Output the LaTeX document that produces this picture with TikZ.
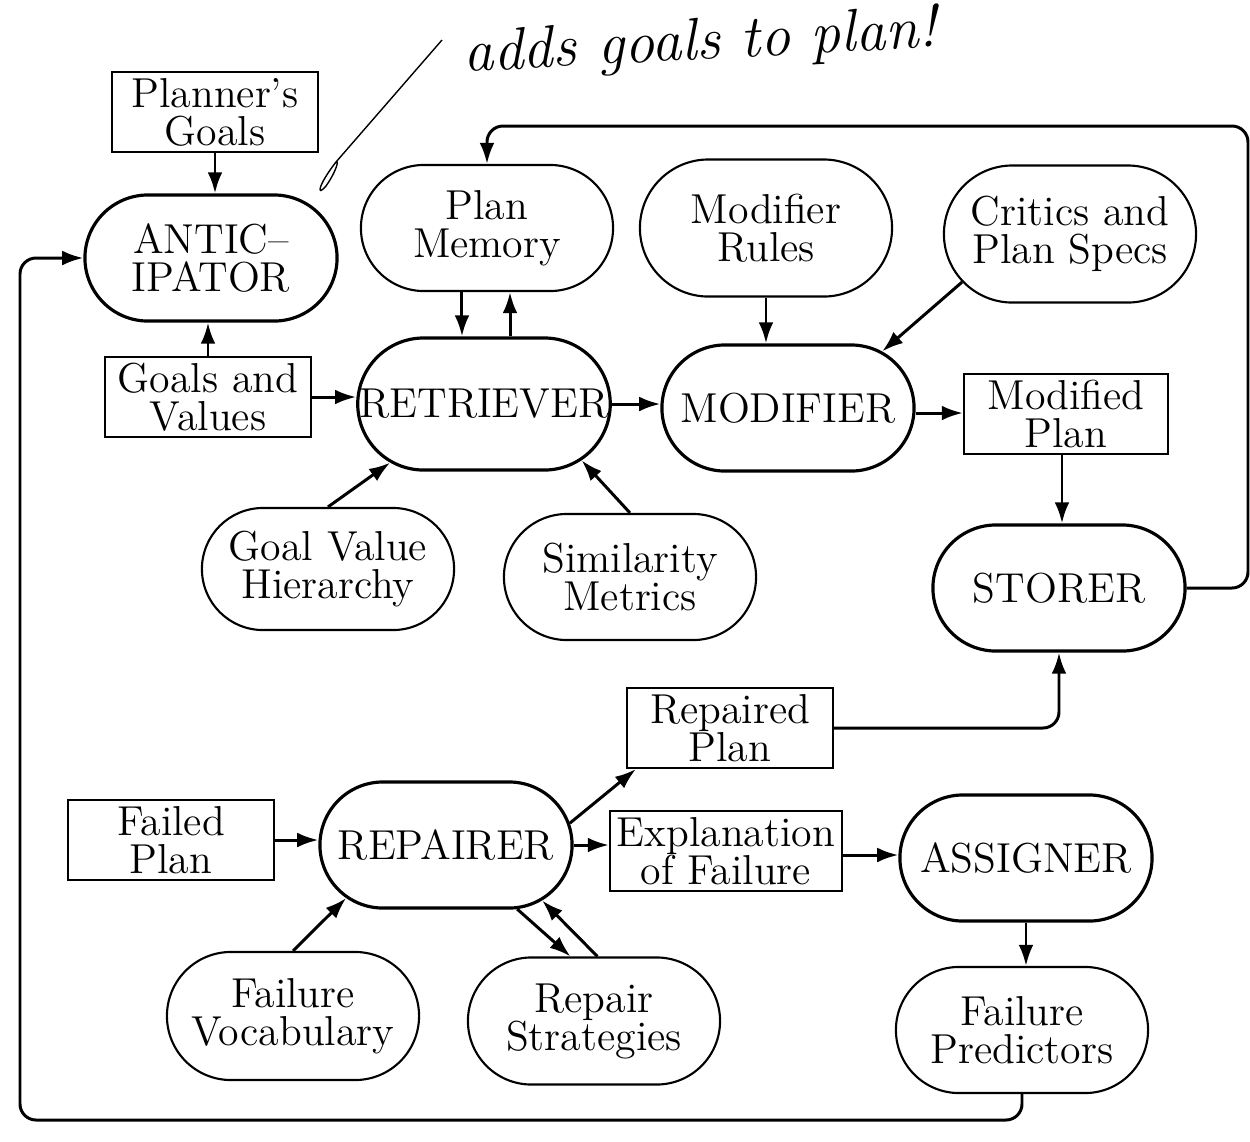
\documentclass[tikz,border=0pt]{standalone}
\usetikzlibrary{shapes.misc, arrows.meta}
\tikzset{>={Latex[length=6pt,width=4.2pt]}}
\tikzset{
  agent/.style={rounded rectangle, draw, line width=0.9pt, minimum width=2.52cm, minimum height=1.26cm, inner sep=0pt, align=center},
  memory/.style={rounded rectangle, draw, line width=0.6pt, minimum width=2.52cm, minimum height=1.26cm, inner sep=0pt, align=center},
  plandata/.style={rectangle, draw, line width=0.6pt, minimum width=2.06cm, minimum height=0.8cm, inner sep=1pt, align=center},
  link/.style={->, line width=0.85pt},
  backlink/.style={link, rounded corners=1.6mm}
}

\begin{document}
\begin{tikzpicture}[x=0.01cm, y=-0.01cm, every node/.style={font=\fontsize{11.9}{10.8}\selectfont}]
\useasboundingbox (0,0) rectangle (1250,1141);

% pencil note
\node[font=\fontsize{17}{17}\selectfont\itshape, rotate=3] (note) at (700,44) {adds goals to plan!};
\draw[line width=0.4pt] (442,40) -- (336,162) .. controls (318,185) and (316,198) .. (326,186) .. controls (334,175) and (340,160) .. (336,162);

% upper part
\node[plandata] (pgoals) at (215,112) {Planner's\\Goals};
\node[agent] (antic) at (211,258) {ANTIC--\\IPATOR};
\node[plandata] (gvals) at (208,397) {Goals and\\Values};
\node[memory] (pmem) at (487,228) {Plan\\Memory};
\node[memory, minimum height=1.37cm] (mrules) at (766,228) {Modifier\\Rules};
\node[memory, minimum height=1.37cm] (critics) at (1070,234) {Critics and\\Plan Specs};
\node[agent, minimum height=1.32cm] (retr) at (484,404) {RETRIEVER};
\node[agent] (modi) at (788,408) {MODIFIER};
\node[plandata, minimum width=2.04cm] (modplan) at (1066,414) {Modified\\Plan};
\node[agent] (stor) at (1059,588) {STORER};
\node[memory, minimum height=1.22cm] (gvh) at (328,569) {Goal Value\\Hierarchy};
\node[memory] (simm) at (630,577) {Similarity\\Metrics};

% lower part
\node[plandata] (repplan) at (730,728) {Repaired\\Plan};
\node[plandata] (failplan) at (171,840) {Failed\\Plan};
\node[agent] (repr) at (446,845) {REPAIRER};
\node[plandata, minimum width=2.32cm] (expl) at (726,851) {Explanation\\of Failure};
\node[agent] (asgn) at (1026,858) {ASSIGNER};
\node[memory, minimum height=1.28cm] (fvoc) at (293,1016) {Failure\\Vocabulary};
\node[memory, minimum height=1.27cm] (rstrat) at (594,1021) {Repair\\Strategies};
\node[memory] (fpred) at (1022,1030) {Failure\\Predictors};

\coordinate (ne) at (1248,126);
\coordinate (sw) at (20,1120);

% connectors
\draw[link] (pgoals.south) -- (pgoals.south |- antic.north);
\draw[link] (gvals.north) -- (gvals.north |- antic.south);
\draw[link] (gvals.east) -- (gvals.east -| retr.west);
\draw[link] ([xshift=-2.5mm]pmem.south) -- ([xshift=-2.5mm]pmem.south |- retr.north);
\draw[link] ([xshift=2.6mm]retr.north) -- ([xshift=2.6mm]retr.north |- pmem.south);
\draw[link] (retr.east) -- (retr.east -| modi.west);
\draw[link] (mrules.south) -- (mrules.south |- modi.north);
\draw[link] (critics.204) -- (modi.31);
\draw[link] ([yshift=-0.5mm]modi.east) -- ([yshift=-0.5mm]modi.east -| modplan.west);
\draw[link] ([xshift=-0.4mm]modplan.south) -- ([xshift=-0.4mm]modplan.south |- stor.north);
\draw[link] (gvh.north) -- (retr.212);
\draw[link] (simm.north) -- (retr.330);
\draw[link] (failplan.east) -- (failplan.east -| repr.west);
\draw[link] (repr.10) -- ([xshift=1mm]repplan.south west);
\draw[link] (repr.east) -- (repr.east -| expl.west);
\draw[link] ([yshift=-0.4mm]expl.east) -- ([yshift=-0.4mm]expl.east -| asgn.west);
\draw[link] (asgn.south) -- (asgn.south |- fpred.north);
\draw[link] (fvoc.north) -- (repr.208);
\draw[link] (repr.318) -- (rstrat.110);
\draw[link] (rstrat.87) -- (repr.330);

% feedback paths
\draw[backlink] (stor.east) -| (ne) -| (pmem.north);
\draw[backlink] (repplan.east) -| (stor.south);
\draw[backlink] (fpred.south) |- (sw) |- (antic.west);
\end{tikzpicture}
\end{document}
